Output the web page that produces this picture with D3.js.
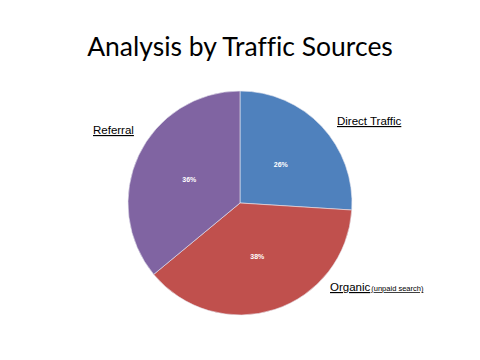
<!DOCTYPE html>
<html>
<head>
<meta charset="utf-8">
<script src="https://cdn.jsdelivr.net/npm/d3@7"></script>
<style>
  body { margin: 0; background: #fff; }
</style>
</head>
<body>
<div id="chart"></div>
<script>
const width = 480;
const height = 360;

const sources = ["Direct Traffic", "Organic", "Referral"];
const shares = [26, 38, 36];
const colors = ["#4F81BD", "#C0504D", "#8064A2"];

const svg = d3.select('#chart').append('svg')
    .attr('width', width)
    .attr('height', height);

// title
svg.append("text")
    .attr("x", 240)
    .attr("y", 56)
    .attr("text-anchor", "middle")
    .style("font-family", "Lato, 'Open Sans', sans-serif")
    .style("font-size", "26.5px")
    .style("font-variant-ligatures", "none")
    .attr("fill", "#000")
    .text("Analysis by Traffic Sources");

const cx = 240, cy = 203, r = 112;

const pie = d3.pie().sort(null).value(d => d);
const arcs = pie(shares);
const arc = d3.arc().innerRadius(0).outerRadius(r);

const g = svg.append("g").attr("transform", `translate(${cx},${cy})`);

g.selectAll("path")
    .data(arcs)
    .join("path")
    .attr("d", arc)
    .attr("fill", (d, i) => colors[i])
    .attr("stroke", "#e8e8f0")
    .attr("stroke-width", 0.6);

// percent labels inside slices
const inner = d3.arc().innerRadius(r * 0.5).outerRadius(r * 0.5);
g.selectAll("text.pct")
    .data(arcs)
    .join("text")
    .attr("class", "pct")
    .attr("transform", d => `translate(${inner.centroid(d)})`)
    .attr("text-anchor", "middle")
    .attr("dy", "0.35em")
    .attr("fill", "#fff")
    .style("font-family", "'Liberation Sans', Arial, sans-serif")
    .style("font-size", "7px")
    .style("font-weight", "bold")
    .text(d => d.data + "%");

// category labels outside
const labelPos = [[337, 125], [330, 291], [93, 134]];
const labelFont = "'Liberation Sans', Arial, sans-serif";

sources.forEach((name, i) => {
    const t = svg.append("text")
        .attr("x", labelPos[i][0])
        .attr("y", labelPos[i][1])
        .style("font-family", labelFont)
        .style("font-size", "11.5px")
        .style("text-decoration", "underline")
        .attr("fill", "#000");
    t.append("tspan").text(name);
    if (name === "Organic") {
        t.append("tspan")
            .style("font-size", "7.5px")
            .attr("dx", 1)
            .text("(unpaid search)");
    }
});
</script>
</body>
</html>
